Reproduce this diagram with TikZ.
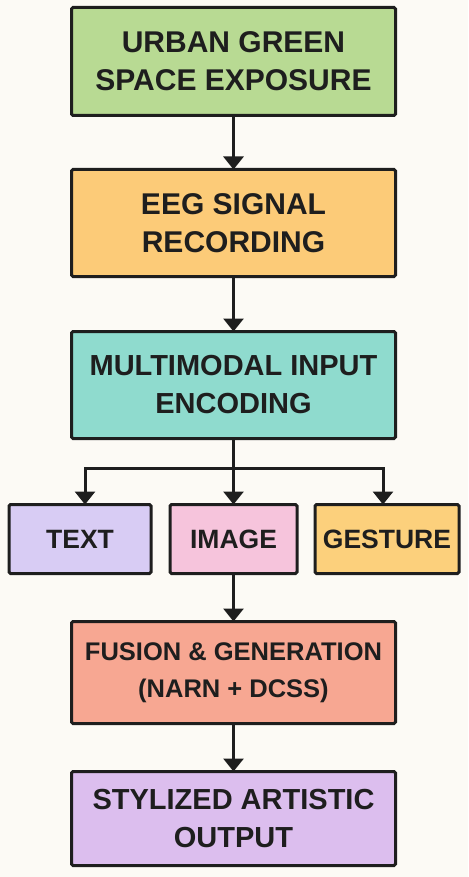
\documentclass[tikz,border=0pt]{standalone}
\usepackage{fontspec}
\setmainfont{Liberation Sans}
\usetikzlibrary{arrows.meta, positioning, calc}
\definecolor{cbg}{HTML}{FCFAF5}
\definecolor{cink}{HTML}{1E1E1E}
\definecolor{cgreen}{HTML}{B8DA93}
\definecolor{corange}{HTML}{FCCB78}
\definecolor{cteal}{HTML}{8FDBCE}
\definecolor{clavender}{HTML}{D8CCF4}
\definecolor{cpink}{HTML}{F6C4DC}
\definecolor{cgold}{HTML}{FCD07C}
\definecolor{csalmon}{HTML}{F7A792}
\definecolor{cviolet}{HTML}{DCBEEE}
\tikzset{
  every picture/.style={line width=3pt},
  box/.style={draw=cink, fill=#1, rounded corners=1.5pt, align=center, inner sep=4pt, outer sep=0pt,
              minimum width=324pt, minimum height=107pt,
              font=\fontsize{30pt}{38pt}\selectfont\bfseries, text=cink},
  box/.default=white,
  small/.style={box=#1, minimum height=69pt, font=\fontsize{26.5pt}{32pt}\selectfont\bfseries},
  arrow/.style={-{Triangle[length=13pt, width=20pt]}, draw=cink},
  line/.style={draw=cink},
}

\begin{document}
\begin{tikzpicture}
  % background and page size
  \fill[cbg] (0pt,0pt) rectangle (468pt,-877pt);
  \useasboundingbox (0pt,0pt) rectangle (468pt,-877pt);
  % main column
  \node[box=cgreen, minimum height=108pt] (expo) at (233.5pt,-61.5pt) {URBAN GREEN\\SPACE EXPOSURE};
  \node[box=corange, below=54pt of expo] (eeg) {EEG SIGNAL\\RECORDING};
  \node[box=cteal, font=\fontsize{29pt}{38pt}\selectfont\bfseries, below=55pt of eeg] (enc) {MULTIMODAL INPUT\\ENCODING};
  % modalities
  \node[small=cpink, minimum width=127pt, below=66pt of enc] (img) {IMAGE};
  \node[small=clavender, minimum width=142pt, left=19pt of img] (txt) {TEXT};
  \node[small=cgold, minimum width=144pt, right=18pt of img] (gst) {GESTURE};
  \node[box=csalmon, minimum height=102pt, font=\fontsize{25.5pt}{37pt}\selectfont\bfseries,
        below=48pt of img] (fus) {FUSION \& GENERATION\\(NARN + DCSS)};
  \node[box=cviolet, minimum height=94pt, font=\fontsize{29pt}{38pt}\selectfont\bfseries,
        below=48pt of fus] (out) {STYLIZED ARTISTIC\\OUTPUT};
  % connectors
  \draw[arrow] (expo) -- (eeg);
  \draw[arrow] (eeg) -- (enc);
  \coordinate[below=29.5pt of enc.south] (split);
  \draw[line] (enc.south) -- (split);
  \draw[arrow] (split) -| ([xshift=5pt]txt.north);
  \draw[arrow] (split) -- (img.north);
  \draw[arrow] (split) -| ([xshift=-4pt]gst.north);
  \draw[arrow] (img) -- (fus);
  \draw[arrow] (fus) -- (out);
\end{tikzpicture}
\end{document}
